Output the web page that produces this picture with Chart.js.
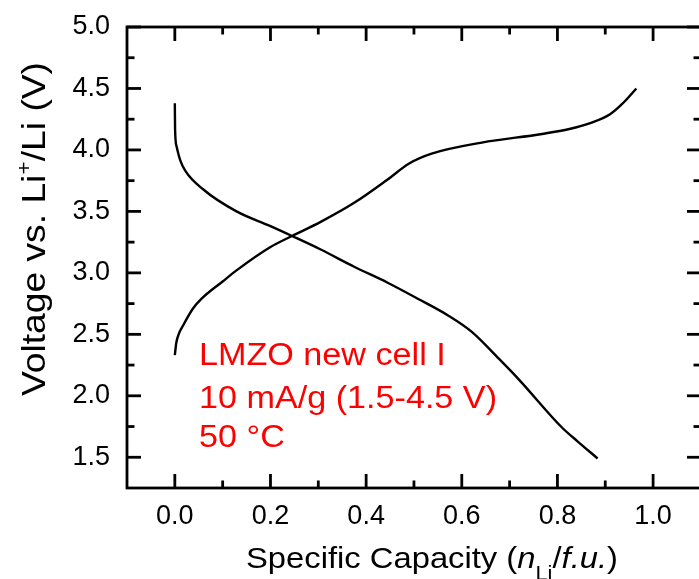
<!DOCTYPE html>
<html><head><meta charset="utf-8">
<script src="https://cdn.jsdelivr.net/npm/chart.js@4.4.0/dist/chart.umd.min.js"></script>
<style>html,body{margin:0;padding:0;background:#fff;}canvas{display:block;}</style>
</head><body>
<canvas id="c" width="699" height="579" style="width:699px;height:579px"></canvas>
<script>
// ---- data ----
const chargeX = [0, 0.003, 0.008, 0.017, 0.038, 0.056, 0.100, 0.129, 0.200, 0.245, 0.305, 0.375, 0.445, 0.490, 0.537, 0.642, 0.768, 0.825, 0.870, 0.910, 0.937, 0.965];
const chargeV = [2.33, 2.43, 2.50, 2.57, 2.71, 2.79, 2.93, 3.02, 3.21, 3.30, 3.415, 3.57, 3.76, 3.89, 3.97, 4.06, 4.13, 4.17, 4.22, 4.29, 4.38, 4.50];
const dischargeX = [0, 0.0005, 0.0036, 0.011, 0.022, 0.059, 0.129, 0.200, 0.245, 0.305, 0.375, 0.445, 0.508, 0.573, 0.621, 0.678, 0.720, 0.810, 0.842, 0.884];
const dischargeV = [4.38, 4.17, 4.03, 3.92, 3.83, 3.68, 3.50, 3.38, 3.30, 3.19, 3.05, 2.92, 2.79, 2.65, 2.52, 2.30, 2.13, 1.74, 1.63, 1.49];
const xTicks = [0.0, 0.2, 0.4, 0.6, 0.8, 1.0];
const xMinorTicks = [0.1, 0.3, 0.5, 0.7, 0.9];
const yTicks = [1.5, 2.0, 2.5, 3.0, 3.5, 4.0, 4.5, 5.0];
const yMinorTicks = [1.75, 2.25, 2.75, 3.25, 3.75, 4.25, 4.75];
const annotationLines = ["LMZO new cell I", "10 mA/g (1.5-4.5 V)", "50 \u00B0C"];

const FAM = '"Liberation Sans", Arial, Helvetica, sans-serif';

function drawRich(ctx, parts, targetLen) {
  let total = 0;
  parts.forEach(p => { ctx.font = (p.style||'') + ' ' + p.size + 'px ' + FAM; p.w = ctx.measureText(p.t).width; total += p.w; });
  const s = targetLen / total;
  ctx.save();
  ctx.scale(s, 1);
  let x = -total / 2;
  parts.forEach(p => {
    ctx.font = (p.style||'') + ' ' + p.size + 'px ' + FAM;
    ctx.fillText(p.t, x, p.dy || 0);
    x += p.w;
  });
  ctx.restore();
}

const framePlugin = {
  id: 'frame',
  afterDraw(chart) {
    const {ctx, chartArea: a, scales: {x, y}} = chart;
    const R = a.right + 2;
    ctx.save();
    ctx.strokeStyle = '#000';
    ctx.lineWidth = 2.8;
    ctx.lineCap = 'butt';
    ctx.strokeRect(a.left, a.top, R - a.left, a.bottom - a.top);
    const tick = (x1, y1, x2, y2) => { ctx.beginPath(); ctx.moveTo(x1, y1); ctx.lineTo(x2, y2); ctx.stroke(); };
    xTicks.forEach(v => { const p = x.getPixelForValue(v); tick(p, a.bottom, p, a.bottom - 14); tick(p, a.top, p, a.top + 14); });
    xMinorTicks.forEach(v => { const p = x.getPixelForValue(v); tick(p, a.bottom, p, a.bottom - 7.5); tick(p, a.top, p, a.top + 7.5); });
    yTicks.forEach(v => { const p = y.getPixelForValue(v); tick(a.left, p, a.left + 14, p); tick(R, p, R - 14, p); });
    yMinorTicks.forEach(v => { const p = y.getPixelForValue(v); tick(a.left, p, a.left + 7.5, p); tick(R, p, R - 7.5, p); });
    ctx.restore();

    // axis titles
    ctx.save();
    ctx.fillStyle = '#000';
    ctx.textBaseline = 'alphabetic';
    ctx.translate(432, 568);
    drawRich(ctx, [
      {t: 'Specific Capacity (', size: 30},
      {t: 'n', size: 30, style: 'italic'},
      {t: 'Li', size: 20, dy: 12},
      {t: '/', size: 30},
      {t: 'f.u.', size: 30, style: 'italic'},
      {t: ')', size: 30}
    ], 372);
    ctx.restore();

    ctx.save();
    ctx.fillStyle = '#000';
    ctx.textBaseline = 'alphabetic';
    ctx.translate(45, 229);
    ctx.rotate(-Math.PI / 2);
    drawRich(ctx, [
      {t: 'Voltage vs. Li', size: 34},
      {t: '+', size: 21, dy: -14},
      {t: '/Li (V)', size: 34}
    ], 334);
    ctx.restore();

    // annotation
    ctx.save();
    ctx.fillStyle = '#ff0000';
    ctx.textBaseline = 'alphabetic';
    ctx.font = '31px ' + FAM;
    const w2 = ctx.measureText(annotationLines[1]).width;
    const s = 298 / w2;
    const base = [365, 408, 447];
    annotationLines.forEach((t, i) => {
      ctx.save();
      ctx.translate(199, base[i]);
      ctx.scale(s, 1);
      ctx.fillText(t, 0, 0);
      ctx.restore();
    });
    ctx.restore();
  }
};

const tickFont = {family: FAM, size: 27};

new Chart(document.getElementById('c').getContext('2d'), {
  type: 'scatter',
  data: {
    datasets: [
      {label: 'Charge', data: chargeX.map((v, i) => ({x: v, y: chargeV[i]})), showLine: true, borderColor: '#000', borderWidth: 2.4, pointRadius: 0, cubicInterpolationMode: 'monotone', fill: false},
      {label: 'Discharge', data: dischargeX.map((v, i) => ({x: v, y: dischargeV[i]})), showLine: true, borderColor: '#000', borderWidth: 2.4, pointRadius: 0, cubicInterpolationMode: 'monotone', fill: false}
    ]
  },
  options: {
    responsive: false,
    animation: false,
    devicePixelRatio: 1,
    layout: {padding: {left: 0, right: 0, top: 27, bottom: 0}},
    plugins: {legend: {display: false}, tooltip: {enabled: false}},
    scales: {
      x: {
        type: 'linear', min: -0.1, max: 1.096,
        afterBuildTicks: s => { s.ticks = xTicks.map(v => ({value: v})); },
        afterFit: s => { s.height = 91; s.paddingLeft = 0; s.paddingRight = 0; },
        grid: {display: false, drawTicks: false},
        border: {display: false},
        ticks: {padding: 12, color: '#000', font: tickFont, maxRotation: 0, autoSkip: false, callback: v => Number(v).toFixed(1)}
      },
      y: {
        type: 'linear', min: 1.25, max: 5.0,
        afterBuildTicks: s => { s.ticks = yTicks.map(v => ({value: v})); },
        afterFit: s => { s.width = 127; s.paddingTop = 0; s.paddingBottom = 0; },
        grid: {display: false, drawTicks: false},
        border: {display: false},
        ticks: {padding: 17, color: '#000', font: tickFont, autoSkip: false, callback: v => Number(v).toFixed(1)}
      }
    }
  },
  plugins: [framePlugin]
});
</script>
</body></html>
